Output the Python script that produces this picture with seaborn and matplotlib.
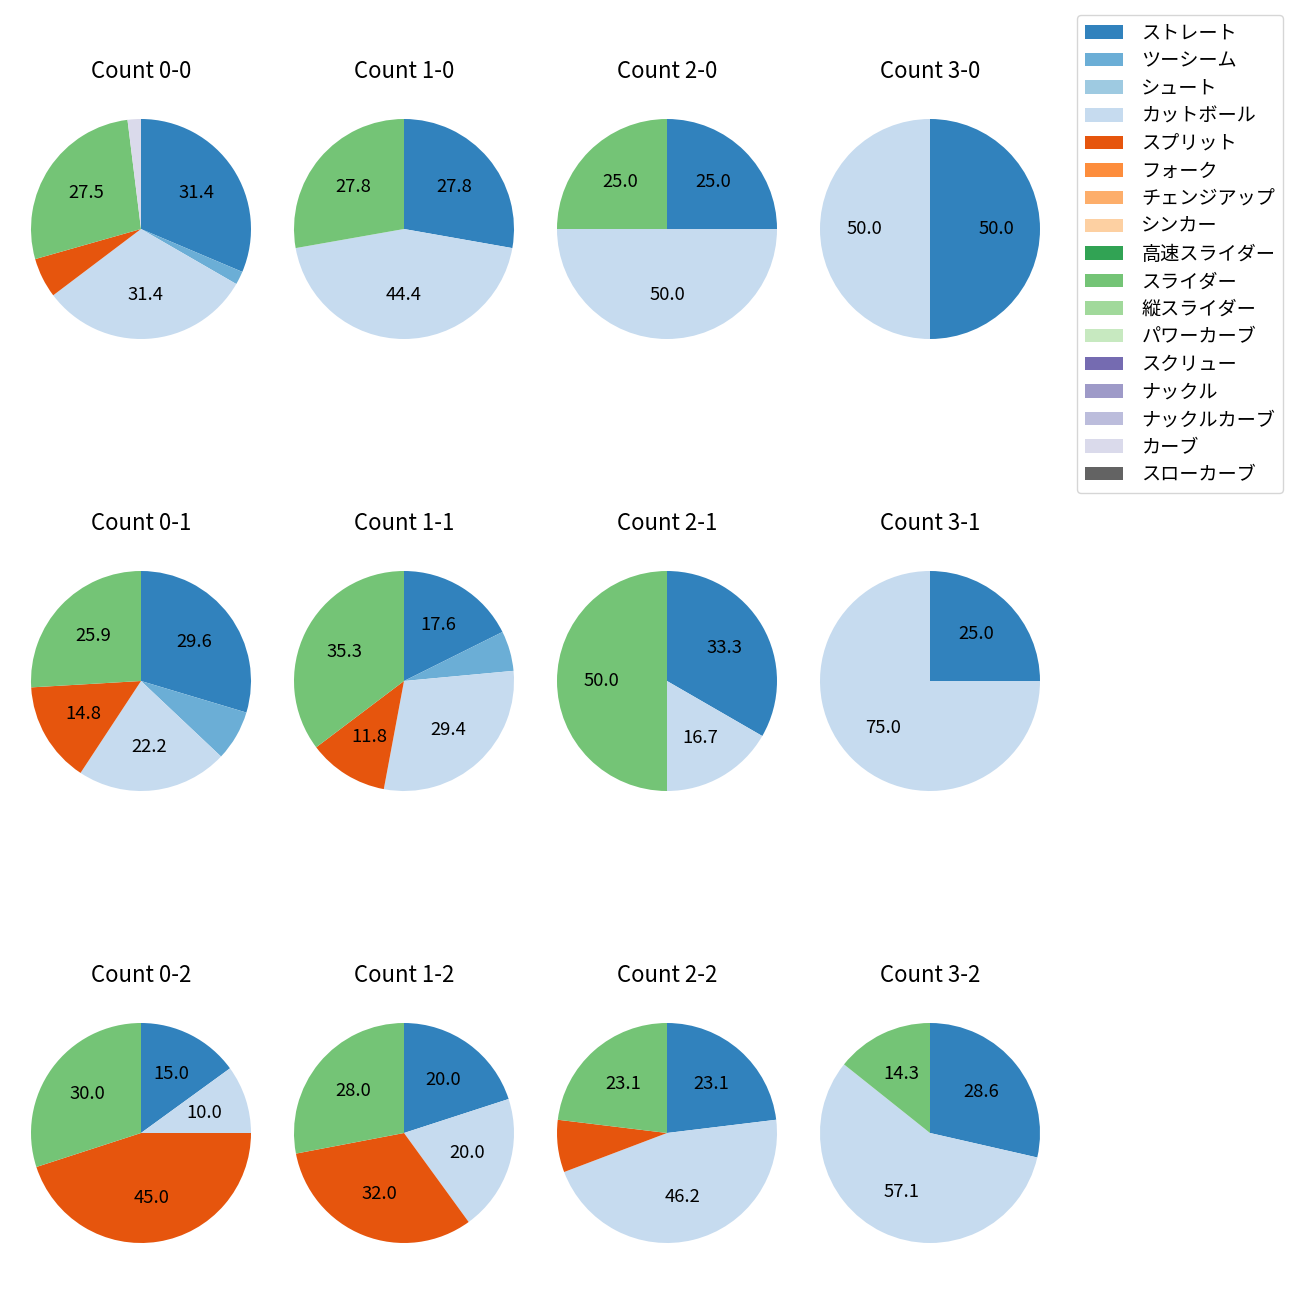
import matplotlib
matplotlib.use("Agg")
import matplotlib.pyplot as plt
from matplotlib.patches import Patch
import seaborn as sns
import pandas as pd

plt.rcParams['font.family'] = ['Noto Sans CJK JP', 'DejaVu Sans']

pitch_types = ["ストレート", "ツーシーム", "シュート", "カットボール", "スプリット", "フォーク",
               "チェンジアップ", "シンカー", "高速スライダー", "スライダー", "縦スライダー",
               "パワーカーブ", "スクリュー", "ナックル", "ナックルカーブ", "カーブ", "スローカーブ"]

counts = ["0-0", "1-0", "2-0", "3-0",
          "0-1", "1-1", "2-1", "3-1",
          "0-2", "1-2", "2-2", "3-2"]

# pitch counts per ball-strike count, in pitch_types order
c_0_0 = [16, 1, 0, 16, 3, 0, 0, 0, 0, 14, 0, 0, 0, 0, 0, 1, 0]
c_1_0 = [5, 0, 0, 8, 0, 0, 0, 0, 0, 5, 0, 0, 0, 0, 0, 0, 0]
c_2_0 = [1, 0, 0, 2, 0, 0, 0, 0, 0, 1, 0, 0, 0, 0, 0, 0, 0]
c_3_0 = [1, 0, 0, 1, 0, 0, 0, 0, 0, 0, 0, 0, 0, 0, 0, 0, 0]
c_0_1 = [8, 2, 0, 6, 4, 0, 0, 0, 0, 7, 0, 0, 0, 0, 0, 0, 0]
c_1_1 = [3, 1, 0, 5, 2, 0, 0, 0, 0, 6, 0, 0, 0, 0, 0, 0, 0]
c_2_1 = [2, 0, 0, 1, 0, 0, 0, 0, 0, 3, 0, 0, 0, 0, 0, 0, 0]
c_3_1 = [1, 0, 0, 3, 0, 0, 0, 0, 0, 0, 0, 0, 0, 0, 0, 0, 0]
c_0_2 = [3, 0, 0, 2, 9, 0, 0, 0, 0, 6, 0, 0, 0, 0, 0, 0, 0]
c_1_2 = [5, 0, 0, 5, 8, 0, 0, 0, 0, 7, 0, 0, 0, 0, 0, 0, 0]
c_2_2 = [3, 0, 0, 6, 1, 0, 0, 0, 0, 3, 0, 0, 0, 0, 0, 0, 0]
c_3_2 = [2, 0, 0, 4, 0, 0, 0, 0, 0, 1, 0, 0, 0, 0, 0, 0, 0]

all_counts = [c_0_0, c_1_0, c_2_0, c_3_0, c_0_1, c_1_1, c_2_1, c_3_1,
              c_0_2, c_1_2, c_2_2, c_3_2]

df = pd.DataFrame(all_counts, index=counts, columns=pitch_types)

colors = sns.color_palette("tab20c", 20)[:len(pitch_types)]
color_map = dict(zip(pitch_types, colors))

W = H = 1300
fig = plt.figure(figsize=(13, 13), dpi=100)

r_px = 110.0
box = 2.5 * r_px
col_cx = [141, 404, 667, 930]
row_cy = [229, 681, 1133]

for i, cnt in enumerate(counts):
    row, col = divmod(i, 4)
    cx, cy = col_cx[col], row_cy[row]
    ax = fig.add_axes([(cx - box / 2) / W, 1 - (cy + box / 2) / H, box / W, box / H])
    s = df.loc[cnt]
    s = s[s > 0]
    ax.pie(s.values, colors=[color_map[p] for p in s.index], startangle=90,
           counterclock=False,
           autopct=lambda p: f"{p:.1f}" if p >= 10 else "",
           wedgeprops={"linewidth": 0},
           textprops={"fontsize": 13.3, "color": "black"})
    ax.set_title(f"Count {cnt}", fontsize=16, color="black", pad=10)

handles = [Patch(facecolor=color_map[p], label=p) for p in pitch_types]
fig.legend(handles=handles, loc="upper right",
           bbox_to_anchor=(1283 / W, 1 - 15 / H), borderaxespad=0,
           fontsize=13.8, handletextpad=0.95, labelspacing=0.345, frameon=True)

fig.savefig("out.png", dpi=100)
